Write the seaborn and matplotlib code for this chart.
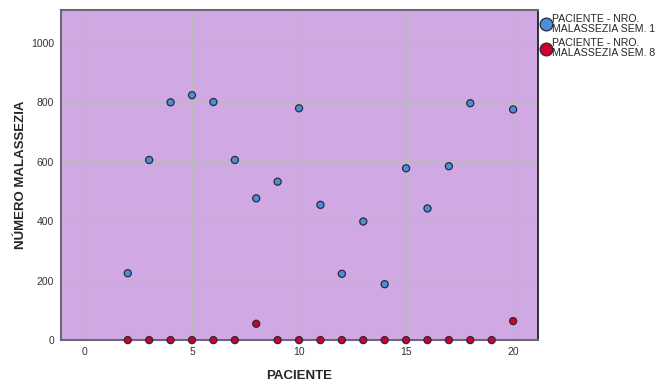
import numpy as np
import pandas as pd
import matplotlib
matplotlib.use("Agg")
import matplotlib.pyplot as plt
import seaborn as sns

# ============================================================
# DATA
# ============================================================
paciente = [2, 3, 4, 5, 6, 7, 8, 9, 10, 11, 12, 13, 14, 15, 16, 17, 18, 19, 20]
sem1 = [225, 606, 800, 824, 801, 606, 477, 533, 780, 455, 223, 399, 188, 578, 443, 585, 797, np.nan, 776]
sem8 = [0, 0, 0, 0, 0, 0, 55, 0, 0, 0, 0, 0, 0, 0, 0, 0, 0, 0, 64]
labels = ["PACIENTE - NRO.\nMALASSEZIA SEM. 1", "PACIENTE - NRO.\nMALASSEZIA SEM. 8"]
xticks = [0, 5, 10, 15, 20]
yticks = [0, 200, 400, 600, 800, 1000]

df = pd.concat([
    pd.DataFrame({"PACIENTE": paciente, "valor": sem1, "serie": labels[0]}),
    pd.DataFrame({"PACIENTE": paciente, "valor": sem8, "serie": labels[1]}),
]).dropna()

# ============================================================
# PLOT
# ============================================================
sns.set_style("white")
plt.rcParams['font.family'] = ['Liberation Sans', 'DejaVu Sans']

fig = plt.figure(figsize=(6.6, 3.8), dpi=100)
ax = fig.add_axes([0.0924, 0.105, 0.723, 0.869])
ax.set_facecolor('#D0A9E4')

palette = {labels[0]: '#4A8FDB', labels[1]: '#D0002B'}
sns.scatterplot(data=df, x="PACIENTE", y="valor", hue="serie", palette=palette,
                s=26, edgecolor='#2A2A3A', linewidth=0.9, ax=ax, zorder=3, clip_on=False)

ax.set_xlim(-1.12, 21.17)
ax.set_ylim(0, 1111)
ax.set_xticks(xticks)
ax.set_yticks(yticks)
ax.grid(True, color='#BABABA', linewidth=0.9)
ax.set_axisbelow(True)
ax.tick_params(labelsize=7.5, colors='#333333', length=0, pad=5)

for s in ['left', 'bottom', 'top']:
    ax.spines[s].set_color('#6E6677')
    ax.spines[s].set_linewidth(1.5)
ax.spines['right'].set_color('#111111')
ax.spines['right'].set_linewidth(1.2)

ax.set_xlabel("PACIENTE", fontsize=9.5, fontweight='bold', labelpad=9)
ax.set_ylabel("NÚMERO MALASSEZIA", fontsize=9.5, fontweight='bold', labelpad=3)

leg = ax.legend(loc='upper left', bbox_to_anchor=(0.995, 1.0), frameon=False,
                fontsize=7.6, handletextpad=0.0, labelspacing=0.45, borderaxespad=0,
                handlelength=1.1, markerscale=1.8)
for t in leg.get_texts():
    t.set_linespacing(0.95)

fig.savefig("out.png", dpi=100)
